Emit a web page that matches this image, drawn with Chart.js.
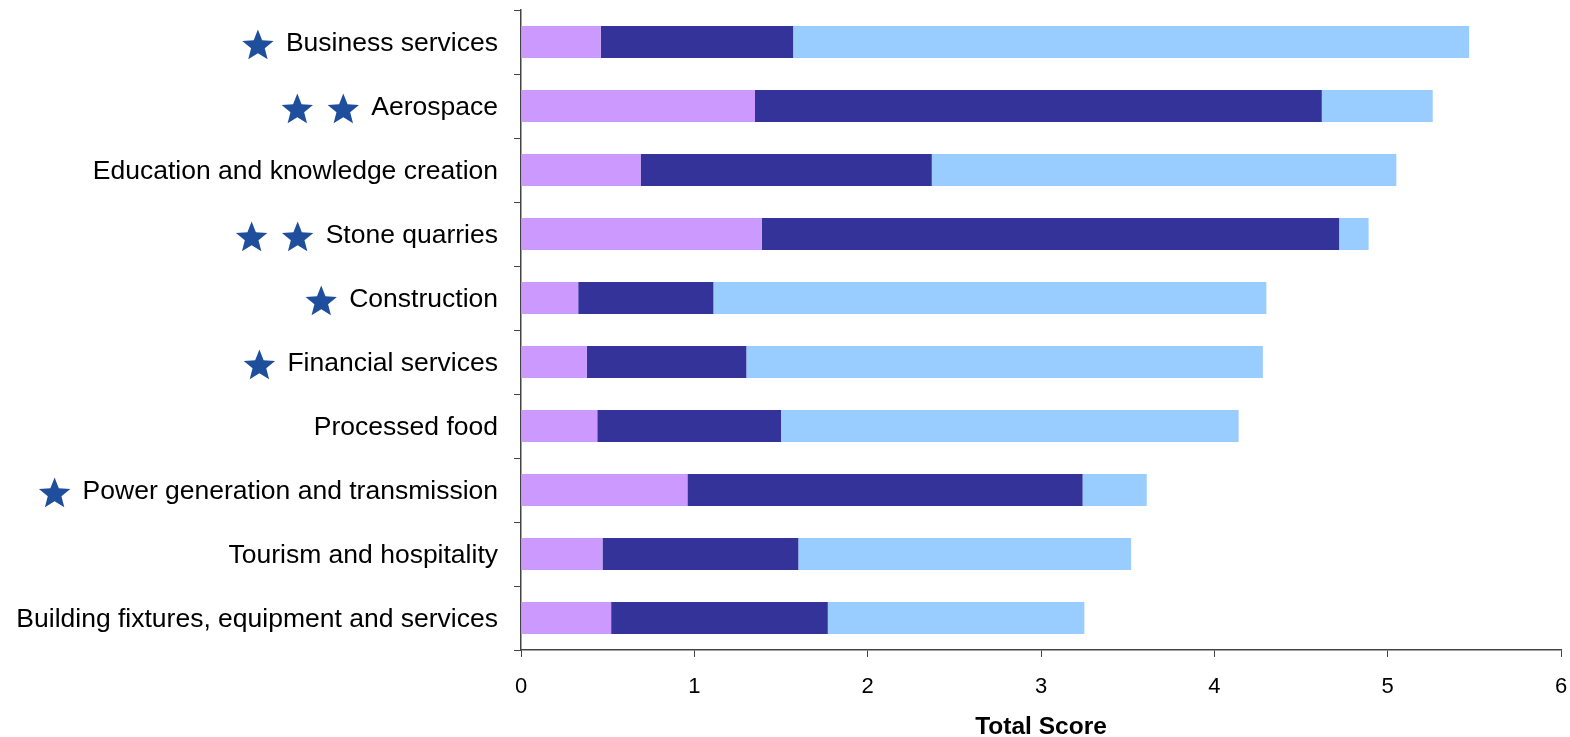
<!DOCTYPE html>
<html>
<head>
<meta charset="utf-8">
<title>Total Score by sector</title>
<script src="https://cdn.jsdelivr.net/npm/chart.js@4/dist/chart.umd.min.js"></script>
<style>
  body { margin: 0; background: #ffffff; }
  #wrap { width: 1570px; height: 737px; }
</style>
</head>
<body>
<div id="wrap"><canvas id="scoreChart" width="1570" height="737"></canvas></div>
<script>
// sectors, top to bottom
let sectors = [
  "Business services",
  "Aerospace",
  "Education and knowledge creation",
  "Stone quarries",
  "Construction",
  "Financial services",
  "Processed food",
  "Power generation and transmission",
  "Tourism and hospitality",
  "Building fixtures, equipment and services"
];
// the three stacked parts of each score
let partA = [0.46, 1.35, 0.69, 1.39, 0.33, 0.38, 0.44, 0.96, 0.47, 0.52];
let partB = [1.11, 3.27, 1.68, 3.33, 0.78, 0.92, 1.06, 2.28, 1.13, 1.25];
let partC = [3.90, 0.64, 2.68, 0.17, 3.19, 2.98, 2.64, 0.37, 1.92, 1.48];
// number of stars shown next to each sector name
let starCount = [1, 2, 0, 2, 1, 1, 0, 1, 0, 0];
let xTicks = [0, 1, 2, 3, 4, 5, 6];

let fontFamily = "'Liberation Sans', Arial, sans-serif";
let labelSize = 26.5;
let tickLen = 7;
let labelPad = 16;
let labelShift = 2;

function drawStar(ctx, cx, cy, outer, inner) {
  ctx.beginPath();
  for (let i = 0; i < 10; i++) {
    let r = i % 2 == 0 ? outer : inner;
    let a = -Math.PI / 2 + i * Math.PI / 5;
    let px = cx + r * Math.cos(a);
    let py = cy + r * Math.sin(a);
    if (i == 0) ctx.moveTo(px, py);
    else ctx.lineTo(px, py);
  }
  ctx.closePath();
  ctx.fill();
}

// stars in front of the sector names
let starPlugin = {
  id: "stars",
  afterDraw(chart) {
    let ctx = chart.ctx;
    let yScale = chart.scales.y;
    let right = chart.chartArea.left - tickLen - labelPad;
    ctx.save();
    ctx.font = labelSize + "px " + fontFamily;
    ctx.fillStyle = "#1f4e9c";
    for (let i = 0; i < sectors.length; i++) {
      let w = ctx.measureText(sectors[i]).width;
      let left = right - w;
      let cy = yScale.getPixelForValue(i) + labelShift + 2;
      for (let k = 0; k < starCount[i]; k++) {
        drawStar(ctx, left - 28 - k * 46, cy, 16.5, 7.2);
      }
    }
    ctx.restore();
  }
};

let myChart = new Chart(document.getElementById("scoreChart"), {
  type: "bar",
  data: {
    labels: sectors,
    datasets: [
      { label: "A", data: partA, backgroundColor: "#cc99ff" },
      { label: "B", data: partB, backgroundColor: "#333399" },
      { label: "C", data: partC, backgroundColor: "#99ccff" }
    ]
  },
  options: {
    indexAxis: "y",
    responsive: false,
    animation: false,
    datasets: {
      bar: { categoryPercentage: 1, barPercentage: 0.5, borderWidth: 0 }
    },
    layout: { padding: { top: 10, right: 9, left: 0, bottom: 0 } },
    plugins: {
      legend: { display: false },
      tooltip: { enabled: false }
    },
    scales: {
      x: {
        stacked: true,
        min: 0,
        max: 6,
        afterBuildTicks(s) {
          s.ticks = xTicks.map(v => ({ value: v }));
        },
        afterFit(s) {
          s.height = 87;
          s.paddingLeft = 0;
          s.paddingRight = 0;
        },
        border: { color: "#444444", width: 1.5 },
        grid: { drawOnChartArea: false, drawTicks: true, tickLength: tickLen, color: "#444444" },
        ticks: {
          color: "#000000",
          padding: 17,
          maxRotation: 0,
          font: { family: fontFamily, size: 22 }
        },
        title: {
          display: true,
          text: "Total Score",
          color: "#000000",
          padding: { top: 0, bottom: -2 },
          font: { family: fontFamily, size: 24.5, weight: "bold", lineHeight: 1 }
        }
      },
      y: {
        stacked: true,
        afterFit(s) {
          s.width = 521;
          s.paddingTop = 0;
          s.paddingBottom = 0;
        },
        border: { color: "#444444", width: 1.5 },
        grid: { drawOnChartArea: false, drawTicks: true, tickLength: tickLen, color: "#444444", offset: true },
        ticks: {
          color: "#000000",
          padding: labelPad,
          labelOffset: labelShift,
          autoSkip: false,
          font: { family: fontFamily, size: labelSize }
        }
      }
    }
  },
  plugins: [starPlugin]
});
</script>
</body>
</html>
